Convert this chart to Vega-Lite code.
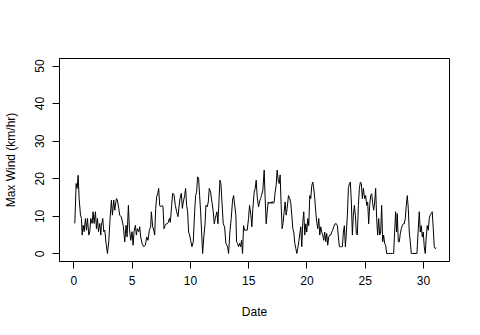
{
  "$schema": "https://vega.github.io/schema/vega-lite/v6.json",
  "width": 390,
  "height": 203,
  "autosize": {"type": "none"},
  "padding": {"left": 59, "top": 58, "right": 31, "bottom": 74},
  "background": "white",
  "data": {"values": [
    {"date":0.117,"wind":8.0},{"date":0.231,"wind":18.6},{"date":0.317,"wind":17.3},{"date":0.403,"wind":20.8},{"date":0.489,"wind":14.6},{"date":0.603,"wind":10.2},{"date":0.689,"wind":9.3},{"date":0.746,"wind":4.9},{"date":0.831,"wind":7.5},{"date":0.917,"wind":5.8},{"date":1.031,"wind":9.3},{"date":1.117,"wind":6.2},{"date":1.203,"wind":9.3},{"date":1.317,"wind":4.9},{"date":1.403,"wind":5.8},{"date":1.489,"wind":9.3},{"date":1.603,"wind":8.0},{"date":1.689,"wind":11.1},{"date":1.774,"wind":8.0},{"date":1.889,"wind":11.1},{"date":1.974,"wind":6.6},{"date":2.06,"wind":9.3},{"date":2.146,"wind":5.8},{"date":2.26,"wind":8.0},{"date":2.346,"wind":4.9},{"date":2.403,"wind":7.5},{"date":2.517,"wind":9.3},{"date":2.603,"wind":5.8},{"date":2.689,"wind":6.2},{"date":2.803,"wind":2.7},{"date":2.917,"wind":0},{"date":3.031,"wind":3.1},{"date":3.146,"wind":9.3},{"date":3.26,"wind":14.2},{"date":3.346,"wind":10.2},{"date":3.46,"wind":14.2},{"date":3.546,"wind":11.5},{"date":3.689,"wind":14.6},{"date":3.774,"wind":14.2},{"date":3.889,"wind":12.0},{"date":3.974,"wind":10.2},{"date":4.117,"wind":9.7},{"date":4.203,"wind":8.4},{"date":4.288,"wind":7.1},{"date":4.403,"wind":3.1},{"date":4.517,"wind":7.5},{"date":4.603,"wind":4.4},{"date":4.717,"wind":12.8},{"date":4.803,"wind":6.6},{"date":4.917,"wind":3.5},{"date":5.031,"wind":5.8},{"date":5.117,"wind":2.2},{"date":5.203,"wind":5.8},{"date":5.317,"wind":7.5},{"date":5.403,"wind":4.9},{"date":5.488,"wind":6.6},{"date":5.603,"wind":5.8},{"date":5.689,"wind":7.1},{"date":5.774,"wind":4.4},
    {"date":5.889,"wind":2.7},{"date":6.031,"wind":1.8},{"date":6.174,"wind":2.2},{"date":6.288,"wind":4.4},{"date":6.403,"wind":3.5},{"date":6.517,"wind":6.2},{"date":6.631,"wind":7.1},{"date":6.688,"wind":11.1},{"date":6.803,"wind":7.1},{"date":6.889,"wind":6.2},{"date":6.974,"wind":4.9},{"date":7.06,"wind":12.0},{"date":7.146,"wind":15.1},{"date":7.231,"wind":15.9},{"date":7.317,"wind":17.3},{"date":7.403,"wind":12.8},{"date":7.488,"wind":12.4},{"date":7.603,"wind":12.8},{"date":7.688,"wind":12.4},{"date":7.774,"wind":6.6},{"date":7.86,"wind":7.4},{"date":7.974,"wind":7.9},{"date":8.06,"wind":7.9},{"date":8.146,"wind":8.3},{"date":8.231,"wind":9.3},{"date":8.317,"wind":8.3},{"date":8.431,"wind":12.8},{"date":8.517,"wind":16.0},{"date":8.631,"wind":15.7},{"date":8.746,"wind":12.8},{"date":8.86,"wind":11.1},{"date":8.974,"wind":9.8},{"date":9.06,"wind":12.4},{"date":9.146,"wind":14.6},{"date":9.26,"wind":16.0},{"date":9.346,"wind":12.0},{"date":9.431,"wind":13.7},{"date":9.546,"wind":15.4},{"date":9.631,"wind":17.3},{"date":9.717,"wind":12.8},{"date":9.803,"wind":11.1},{"date":9.889,"wind":5.7},{"date":9.974,"wind":4.9},{"date":10.06,"wind":3.5},{"date":10.174,"wind":1.8},{"date":10.288,"wind":3.1},{"date":10.403,"wind":11.1},{"date":10.489,"wind":15.4},{"date":10.574,"wind":16.3},{"date":10.66,"wind":20.4},{"date":10.746,"wind":20.0},{"date":10.831,"wind":15.4},{"date":10.917,"wind":11.1},{"date":11.003,"wind":5.7},{"date":11.089,"wind":0},{"date":11.203,"wind":4.9},{"date":11.288,"wind":7.4},{"date":11.374,"wind":12.8},{"date":11.488,"wind":12.4},{"date":11.574,"wind":13.7},{"date":11.66,"wind":17.3},{"date":11.774,"wind":16.3},{"date":11.889,"wind":13.7},{"date":12.003,"wind":11.1},{"date":12.088,"wind":7.9},{"date":12.174,"wind":9.3},
    {"date":12.317,"wind":11.1},{"date":12.403,"wind":7.9},{"date":12.574,"wind":19.5},{"date":12.66,"wind":18.6},{"date":12.859,"wind":7.9},{"date":12.974,"wind":7.1},{"date":13.088,"wind":2.7},{"date":13.231,"wind":1.8},{"date":13.317,"wind":0},{"date":13.431,"wind":5.7},{"date":13.545,"wind":9.3},{"date":13.66,"wind":14.2},{"date":13.746,"wind":15.4},{"date":13.86,"wind":12.4},{"date":13.945,"wind":10.2},{"date":14.003,"wind":3.1},{"date":14.088,"wind":2.7},{"date":14.174,"wind":1.8},{"date":14.26,"wind":2.7},{"date":14.346,"wind":1.8},{"date":14.431,"wind":3.5},{"date":14.517,"wind":0},{"date":14.603,"wind":7.4},{"date":14.688,"wind":6.2},{"date":14.802,"wind":6.2},{"date":14.917,"wind":6.2},{"date":15.031,"wind":9.3},{"date":15.117,"wind":12.8},{"date":15.231,"wind":10.2},{"date":15.317,"wind":7.1},{"date":15.402,"wind":12.0},{"date":15.517,"wind":16.3},{"date":15.602,"wind":17.3},{"date":15.688,"wind":19.5},{"date":15.774,"wind":15.1},{"date":15.888,"wind":12.4},{"date":15.974,"wind":13.7},{"date":16.06,"wind":14.6},{"date":16.145,"wind":15.4},{"date":16.26,"wind":16.8},{"date":16.374,"wind":22.2},{"date":16.459,"wind":14.6},{"date":16.545,"wind":7.9},{"date":16.631,"wind":11.1},{"date":16.717,"wind":13.7},{"date":16.802,"wind":13.3},{"date":16.888,"wind":13.7},{"date":16.974,"wind":13.3},{"date":17.059,"wind":13.8},{"date":17.145,"wind":13.3},{"date":17.231,"wind":13.7},{"date":17.316,"wind":16.3},{"date":17.402,"wind":18.1},{"date":17.488,"wind":22.2},{"date":17.574,"wind":19.5},{"date":17.659,"wind":18.6},{"date":17.745,"wind":20.9},{"date":17.831,"wind":12.8},{"date":17.916,"wind":6.6},{"date":18.002,"wind":8.3},{"date":18.088,"wind":11.1},{"date":18.173,"wind":13.7},{"date":18.259,"wind":10.2},{"date":18.345,"wind":12.0},{"date":18.459,"wind":15.4},
    {"date":18.574,"wind":14.6},{"date":18.66,"wind":13.3},{"date":18.745,"wind":10.2},{"date":18.831,"wind":6.6},{"date":18.917,"wind":5.7},{"date":19.002,"wind":2.7},{"date":19.088,"wind":1.4},{"date":19.174,"wind":0},{"date":19.259,"wind":1.4},{"date":19.345,"wind":3.1},{"date":19.431,"wind":5.3},{"date":19.516,"wind":7.1},{"date":19.602,"wind":1.8},{"date":19.688,"wind":8.3},{"date":19.773,"wind":11.1},{"date":19.859,"wind":4.9},{"date":19.945,"wind":7.9},{"date":20.031,"wind":5.7},{"date":20.116,"wind":9.3},{"date":20.202,"wind":7.4},{"date":20.288,"wind":15.4},{"date":20.373,"wind":14.6},{"date":20.459,"wind":18.1},{"date":20.545,"wind":19.0},{"date":20.631,"wind":17.3},{"date":20.716,"wind":14.6},{"date":20.802,"wind":11.1},{"date":20.888,"wind":8.3},{"date":20.973,"wind":6.6},{"date":21.059,"wind":9.3},{"date":21.145,"wind":4.9},{"date":21.23,"wind":7.1},{"date":21.316,"wind":5.7},{"date":21.402,"wind":4.9},{"date":21.488,"wind":3.5},{"date":21.573,"wind":5.7},{"date":21.659,"wind":3.1},{"date":21.745,"wind":5.3},{"date":21.83,"wind":2.2},{"date":21.916,"wind":4.4},{"date":22.002,"wind":4.9},{"date":22.088,"wind":4.9},{"date":22.173,"wind":5.7},{"date":22.259,"wind":6.2},{"date":22.345,"wind":7.1},{"date":22.459,"wind":7.9},{"date":22.574,"wind":7.9},{"date":22.659,"wind":7.4},{"date":22.745,"wind":4.4},{"date":22.831,"wind":1.8},{"date":22.916,"wind":1.8},{"date":23.002,"wind":1.8},{"date":23.088,"wind":1.8},{"date":23.173,"wind":5.7},{"date":23.259,"wind":7.4},{"date":23.345,"wind":1.8},{"date":23.43,"wind":5.7},{"date":23.516,"wind":10.2},{"date":23.602,"wind":17.3},{"date":23.688,"wind":18.6},{"date":23.773,"wind":19.0},{"date":23.859,"wind":13.7},{"date":23.945,"wind":4.9},{"date":24.03,"wind":10.2},{"date":24.116,"wind":12.8},{"date":24.202,"wind":10.2},{"date":24.288,"wind":5.3},{"date":24.373,"wind":4.9},{"date":24.459,"wind":12.8},{"date":24.545,"wind":17.3},{"date":24.631,"wind":19.0},{"date":24.717,"wind":18.6},{"date":24.802,"wind":14.6},{"date":24.888,"wind":17.3},
    {"date":25.002,"wind":14.6},{"date":25.088,"wind":15.4},{"date":25.174,"wind":12.8},{"date":25.259,"wind":13.7},{"date":25.345,"wind":7.9},{"date":25.431,"wind":12.8},{"date":25.516,"wind":15.4},{"date":25.602,"wind":15.9},{"date":25.688,"wind":13.3},{"date":25.773,"wind":11.5},{"date":25.859,"wind":13.7},{"date":25.945,"wind":17.3},{"date":26.03,"wind":9.3},{"date":26.116,"wind":4.9},{"date":26.202,"wind":9.3},{"date":26.288,"wind":4.9},{"date":26.373,"wind":5.7},{"date":26.459,"wind":12.8},{"date":26.545,"wind":3.1},{"date":26.63,"wind":4.9},{"date":26.716,"wind":2.7},{"date":26.802,"wind":2.2},{"date":26.888,"wind":0},{"date":27.03,"wind":0},{"date":27.202,"wind":0},{"date":27.373,"wind":0},{"date":27.488,"wind":0},{"date":27.573,"wind":5.7},{"date":27.659,"wind":11.1},{"date":27.745,"wind":5.7},{"date":27.802,"wind":10.6},{"date":27.888,"wind":3.1},{"date":27.973,"wind":3.1},{"date":28.059,"wind":5.3},{"date":28.145,"wind":6.6},{"date":28.23,"wind":7.4},{"date":28.316,"wind":7.9},{"date":28.402,"wind":7.9},{"date":28.488,"wind":9.3},{"date":28.573,"wind":12.8},{"date":28.659,"wind":15.4},{"date":28.745,"wind":12.0},{"date":28.83,"wind":5.7},{"date":28.916,"wind":3.1},{"date":29.002,"wind":0},{"date":29.145,"wind":0},{"date":29.316,"wind":0},{"date":29.488,"wind":0},{"date":29.602,"wind":6.6},{"date":29.688,"wind":11.1},{"date":29.773,"wind":5.7},{"date":29.859,"wind":7.4},{"date":29.945,"wind":4.4},{"date":30.031,"wind":5.7},{"date":30.116,"wind":1.8},{"date":30.202,"wind":0},{"date":30.288,"wind":4.4},{"date":30.373,"wind":7.4},{"date":30.459,"wind":6.2},{"date":30.545,"wind":9.3},{"date":30.63,"wind":10.2},{"date":30.716,"wind":10.6},{"date":30.802,"wind":11.1},{"date":30.888,"wind":6.6},{"date":30.973,"wind":1.8},{"date":31.059,"wind":1.3},{"date":31.145,"wind":1.5}
  ]},
  "mark": {"type": "line", "color": "#000000", "strokeWidth": 1, "clip": true},
  "encoding": {
    "x": {
      "field": "date", "type": "quantitative",
      "scale": {"domain": [-1.24, 32.24], "nice": false, "zero": false},
      "axis": {"values": [0, 5, 10, 15, 20, 25, 30], "title": "Date", "labelPadding": 7, "titleY": 50, "titleBaseline": "middle", "labelFlush": false}
    },
    "y": {
      "field": "wind", "type": "quantitative",
      "scale": {"domain": [-2, 52], "nice": false, "zero": false},
      "axis": {"values": [0, 10, 20, 30, 40, 50], "title": "Max Wind (km/hr)", "labelAngle": -90, "labelAlign": "center", "labelBaseline": "bottom", "labelPadding": 6, "titleX": -49, "titleBaseline": "middle", "labelFlush": false}
    }
  },
  "config": {
    "view": {"stroke": "#000000", "strokeWidth": 1},
    "axis": {
      "grid": false, "domain": false, "ticks": true, "tickSize": 7, "tickColor": "#000000", "tickWidth": 1,
      "labelColor": "#000000", "titleColor": "#000000",
      "labelFont": "Liberation Sans", "titleFont": "Liberation Sans",
      "labelFontSize": 12, "titleFontSize": 12, "titleFontWeight": "normal"
    }
  }
}
